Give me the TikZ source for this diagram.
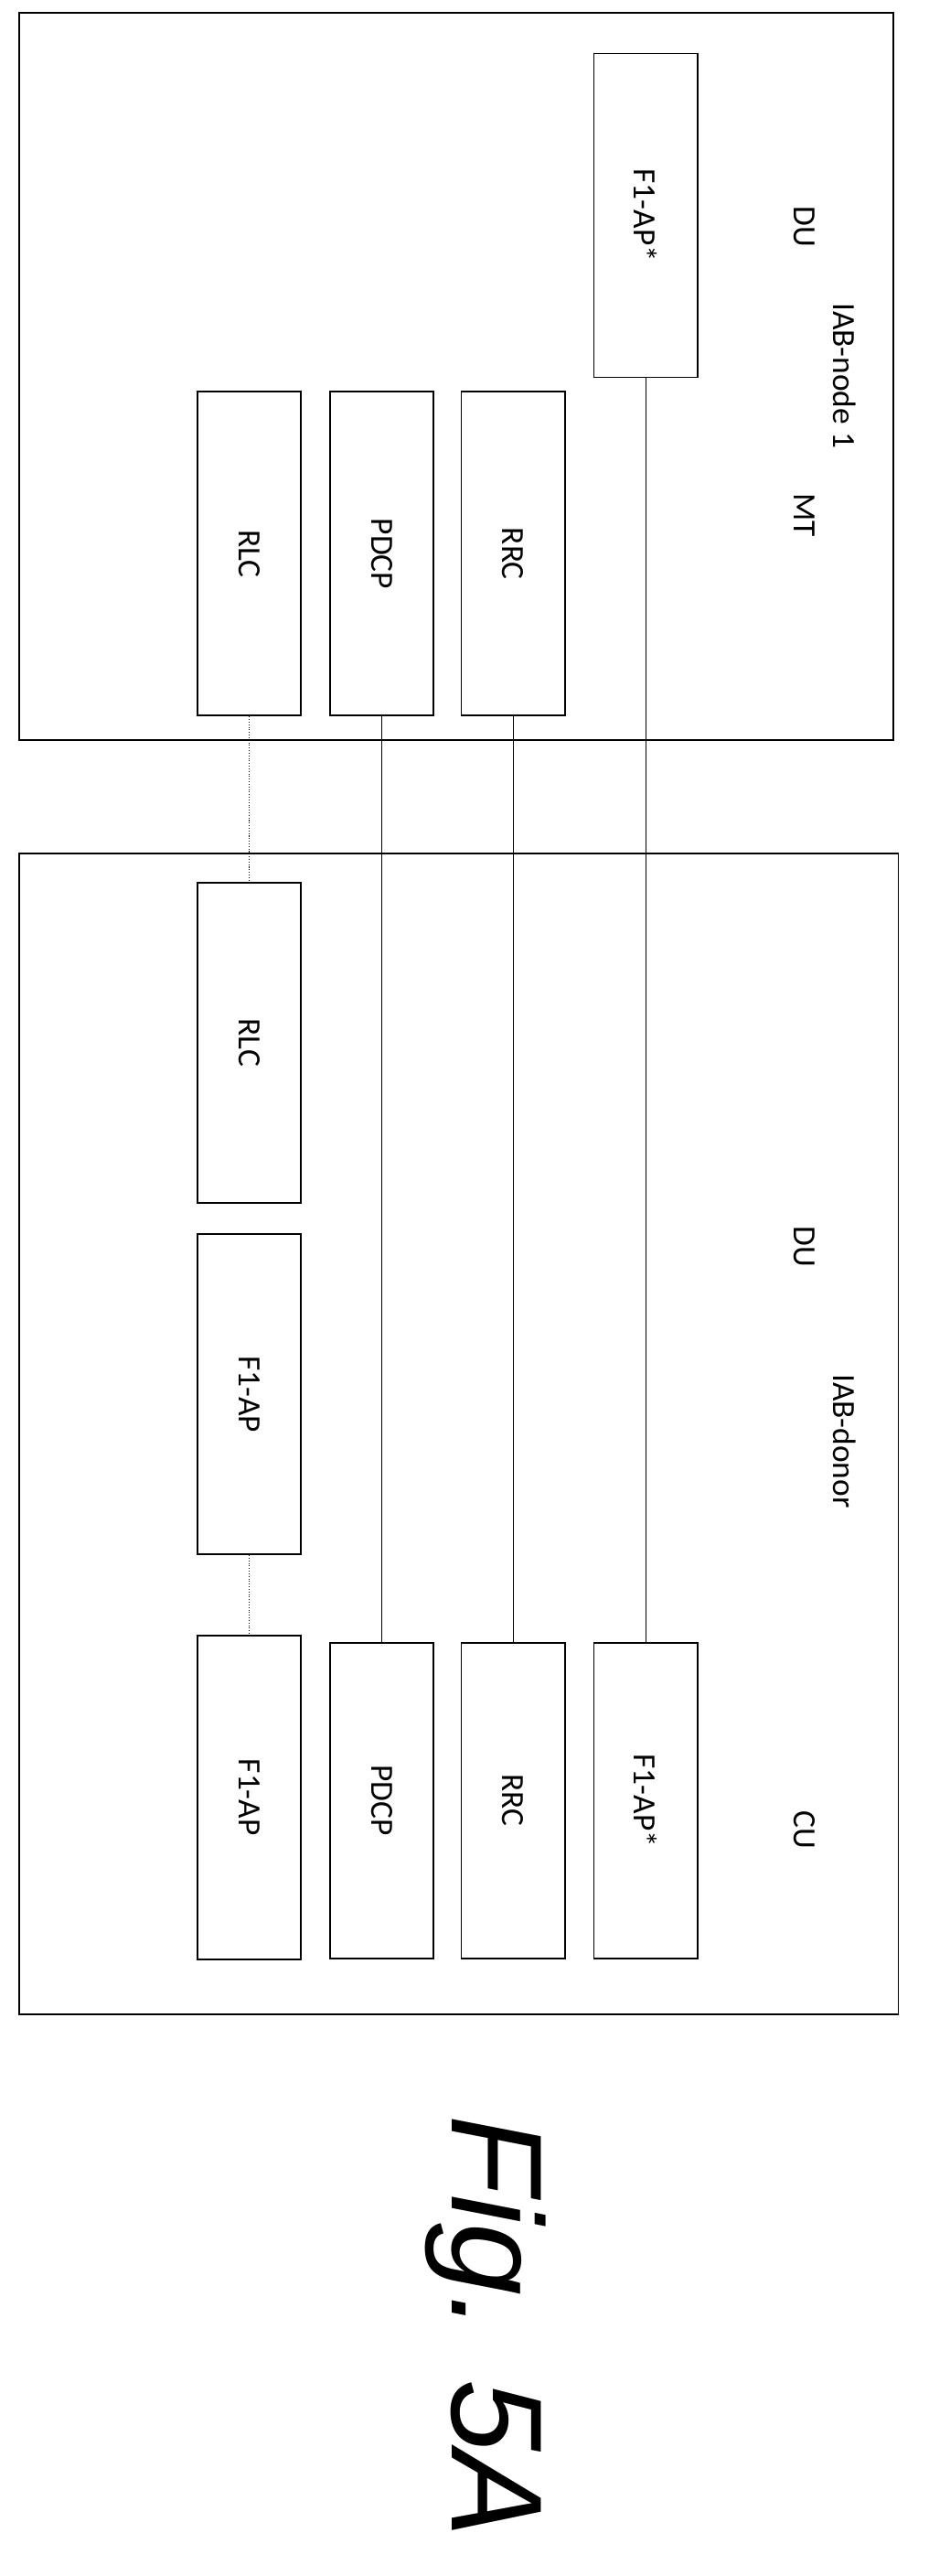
\documentclass[tikz,border=0pt]{standalone}
\usepackage{fontspec}
\setmainfont{Carlito}
\newfontfamily\figfont{Liberation Sans}
\begin{document}
\begin{tikzpicture}[x=1pt,y=-1pt,
  blk/.style={draw,line width=1pt,inner sep=0pt,minimum width=64pt},
  lbl/.style={rotate=-90,font=\fontsize{20}{22}\selectfont},
  lnk/.style={line width=0.6pt},
  dlnk/.style={line width=0.6pt,densely dotted}]
\useasboundingbox (0,0) rectangle (574,1591);
\draw[line width=0.9pt] (12,8) rectangle (552,457);
\draw[line width=0.9pt] (12,527) rectangle (555,1244);
% node 1 boxes
\node[blk,minimum height=200pt] (nfap) at (399,133) {};
\node[lbl] at (nfap) {F1-AP*};
\node[blk,minimum height=200pt] (nrlc) at (154,342) {};
\node[lbl] at (nrlc) {RLC};
\node[blk,minimum height=200pt] (npdcp) at (236,342) {};
\node[lbl] at (npdcp) {PDCP};
\node[blk,minimum height=200pt] (nrrc) at (317,342) {};
\node[lbl] at (nrrc) {RRC};
\node[lbl] (ndu) at (497,140) {DU};
\node[lbl] (nmt) at (497,318) {MT};
\node[lbl] (nname) at (522,232) {IAB-node 1};
% donor boxes
\node[blk,minimum height=198pt] (drlc) at (154,644) {};
\node[lbl] at (drlc) {RLC};
\node[blk,minimum height=198pt] (dfdu) at (154,861) {};
\node[lbl] at (dfdu) {F1-AP};
\node[blk,minimum height=200pt] (dfcu) at (154,1110) {};
\node[lbl] at (dfcu) {F1-AP};
\node[blk,minimum height=195pt] (dpdcp) at (236,1112) {};
\node[lbl] at (dpdcp) {PDCP};
\node[blk,minimum height=195pt] (drrc) at (317,1112) {};
\node[lbl] at (drrc) {RRC};
\node[blk,minimum height=195pt] (dfap) at (399,1112) {};
\node[lbl] at (dfap) {F1-AP*};
\node[lbl] (ddu) at (497,770) {DU};
\node[lbl] (dname) at (522,890) {IAB-donor};
\node[lbl] (dcu) at (497,1130) {CU};
% links
\draw[dlnk] (nrlc.south) -- (drlc.north);
\draw[lnk] (npdcp.south) -- (dpdcp.north);
\draw[lnk] (nrrc.south) -- (drrc.north);
\draw[lnk] (nfap.south) -- (dfap.north);
\draw[dlnk] (dfdu.south) -- (dfcu.north);
\node[rotate=-90,font=\figfont\itshape\fontsize{80}{88}\selectfont] (fig) at (300,1437) {Fig. 5A};
\end{tikzpicture}
\end{document}
